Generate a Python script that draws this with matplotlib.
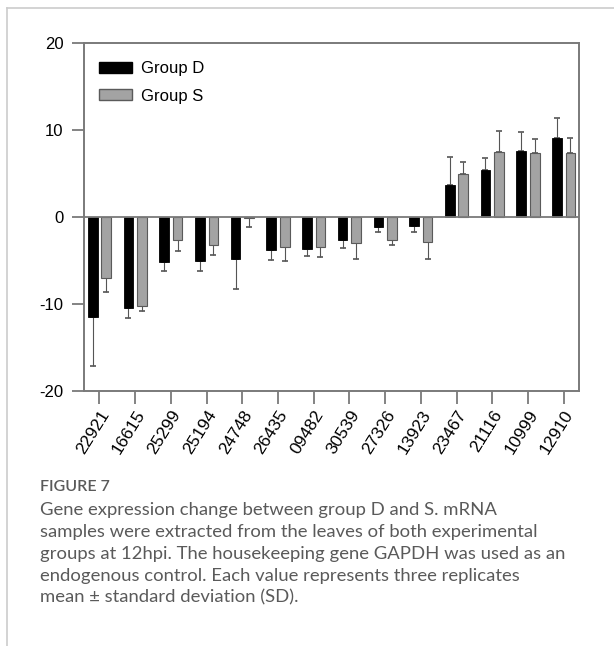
import numpy as np
import matplotlib.pyplot as plt
from matplotlib.lines import Line2D
from matplotlib.patches import Patch

# --- datos ---
genes = ["22921", "16615", "25299", "25194", "24748", "26435", "09482",
         "30539", "27326", "13923", "23467", "21116", "10999", "12910"]
group_d = [-11.5, -10.5, -5.2, -5.1, -4.9, -3.8, -3.7,
           -2.7, -1.2, -1.1, 3.6, 5.4, 7.5, 9.0]
group_s = [-7.0, -10.3, -2.7, -3.2, -0.15, -3.5, -3.5,
           -3.0, -2.7, -2.9, 4.9, 7.4, 7.3, 7.3]
err_d = [5.7, 1.15, 1.05, 1.1, 3.4, 1.2, 0.85,
         0.9, 0.6, 0.7, 3.3, 1.35, 2.2, 2.3]
err_s = [1.6, 0.5, 1.2, 1.2, 1.0, 1.6, 1.1,
         1.8, 0.6, 1.9, 1.4, 2.5, 1.65, 1.7]
yticks = [-20, -10, 0, 10, 20]

caption_title = "FIGURE 7"
caption = ("Gene expression change between group D and S. mRNA\n"
           "samples were extracted from the leaves of both experimental\n"
           "groups at 12hpi. The housekeeping gene GAPDH was used as an\n"
           "endogenous control. Each value represents three replicates\n"
           "mean \u00b1 standard deviation (SD).")

plt.rcParams['font.family'] = ['Liberation Sans', 'DejaVu Sans']

fig = plt.figure(figsize=(6.14, 6.46), dpi=100)
ax = fig.add_axes([0.137, 0.395, 0.806, 0.539])

x = np.arange(len(genes))
w = 0.27
off = 0.19
spine_c = "#7a7a7a"

# barras
ax.bar(x - off, group_d, w, color="black", edgecolor="black", linewidth=0.6, zorder=3)
ax.bar(x + off, group_s, w, color="#a3a3a3", edgecolor="#5a5a5a", linewidth=0.8, zorder=3)

# barras de error (solo hacia afuera)
def one_sided(vals, errs):
    lo = [e if v < 0 else 0 for v, e in zip(vals, errs)]
    hi = [e if v >= 0 else 0 for v, e in zip(vals, errs)]
    return [lo, hi]

ax.errorbar(x - off, group_d, yerr=one_sided(group_d, err_d), fmt="none",
            ecolor="#555555", elinewidth=0.8, capsize=2.2, capthick=1.2, zorder=2)
ax.errorbar(x + off, group_s, yerr=one_sided(group_s, err_s), fmt="none",
            ecolor="#555555", elinewidth=0.8, capsize=2.2, capthick=1.2, zorder=2)

ax.axhline(0, color=spine_c, lw=1.3, zorder=4)

ax.set_xlim(-0.43, len(genes) - 1 + 0.43)
ax.set_ylim(-20, 20)
ax.set_yticks(yticks)
ax.set_yticklabels([str(t) for t in yticks])
ax.set_xticks(x)
ax.set_xticklabels(genes, rotation=58, ha="right", rotation_mode="anchor")

for s in ax.spines.values():
    s.set_color(spine_c)
    s.set_linewidth(1.4)
ax.tick_params(axis="y", length=9, width=1.3, color=spine_c, labelsize=12, pad=6)
ax.tick_params(axis="x", length=9, width=1.3, color=spine_c, labelsize=12.5, pad=3)

handles = [Patch(facecolor="black", edgecolor="black"),
           Patch(facecolor="#a3a3a3", edgecolor="#5a5a5a")]
ax.legend(handles, ["Group D", "Group S"], loc="upper left", frameon=False,
          fontsize=12, handlelength=2.0, handleheight=0.6, handletextpad=0.5,
          bbox_to_anchor=(0.0, 0.99), borderaxespad=0.5, labelspacing=0.75)

# marco de la tarjeta
fig.add_artist(Line2D([7 / 614, 1], [1 - 8 / 646, 1 - 8 / 646],
                      transform=fig.transFigure, color="#cccccc", lw=1.2))
fig.add_artist(Line2D([7 / 614, 7 / 614], [0, 1 - 8 / 646],
                      transform=fig.transFigure, color="#cccccc", lw=1.2))

# leyenda de figura
fig.text(40 / 614, 1 - 487 / 646, caption_title, fontsize=11.5, color="#5a5a5a",
         family=["Lato", "DejaVu Sans"], fontweight="semibold", va="center")
fig.text(40 / 614, 1 - 502 / 646, caption, fontsize=13.3, color="#5a5a5a",
         family=["Lato", "DejaVu Sans"], va="top", linespacing=1.45)

fig.savefig("out.png", dpi=100)
